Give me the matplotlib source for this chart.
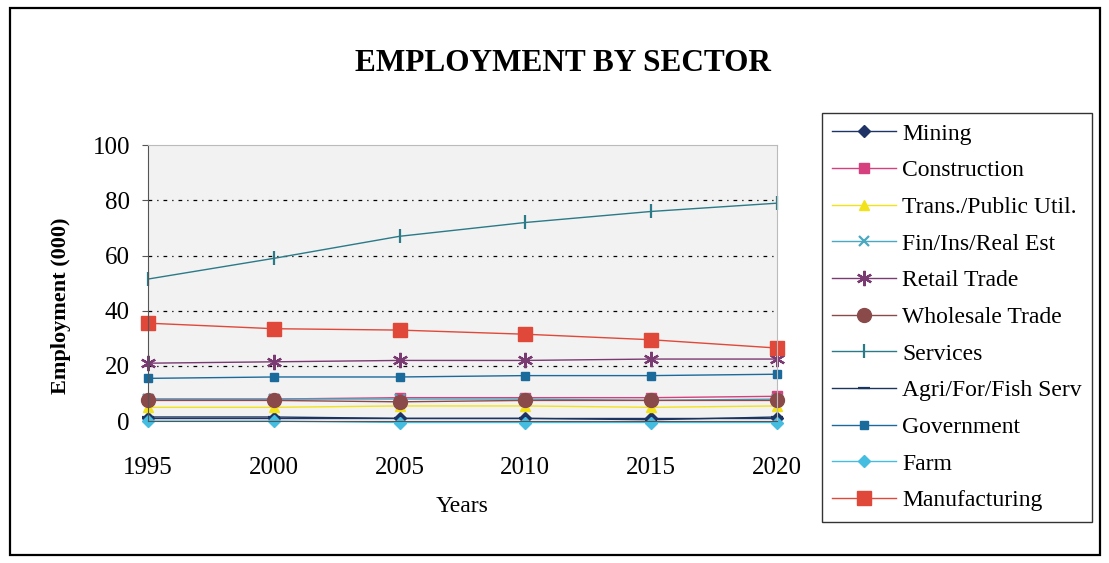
import matplotlib.pyplot as plt
from matplotlib.patches import Rectangle

years = [1995, 2000, 2005, 2010, 2015, 2020]

mining = [1, 1, 1, 1, 1, 1]
construction = [8, 8, 8.5, 8.5, 8.5, 9]
trans_util = [5, 5, 5.5, 5.5, 5, 5.5]
fin_ins_re = [8, 8, 8, 8, 7.5, 8]
retail = [21, 21.5, 22, 22, 22.5, 22.5]
wholesale = [7.5, 7.5, 7, 7.5, 7.5, 7.5]
services = [51.5, 59, 67, 72, 76, 79]
agri_serv = [1.5, 1.5, 1, 1, 0.5, 1.5]
government = [15.5, 16, 16, 16.5, 16.5, 17]
farm = [0, 0, -0.5, -0.5, -0.5, -0.5]
manufacturing = [35.5, 33.5, 33, 31.5, 29.5, 26.5]

plt.rcParams['font.family'] = ['Liberation Serif', 'DejaVu Serif']

fig = plt.figure(figsize=(11.09, 5.63), dpi=100)
ax = fig.add_axes([0.1335, 0.252, 0.567, 0.490])
ax.set_facecolor('#f2f2f2')

series = [
    ('Mining', mining, '#1f3366', 'D', 6, 1.0),
    ('Construction', construction, '#d6407e', 's', 7, 1.0),
    ('Trans./Public Util.', trans_util, '#f2e21a', '^', 7, 1.0),
    ('Fin/Ins/Real Est', fin_ins_re, '#4aa8c0', 'x', 7, 1.0),
    ('Retail Trade', retail, '#7a3a72', (6, 2, 0), 11, 1.0),
    ('Wholesale Trade', wholesale, '#8a4a4a', 'o', 10, 1.0),
    ('Services', services, '#2a7a88', '|', 10, 1.0),
    ('Agri/For/Fish Serv', agri_serv, '#1a3560', '_', 9, 1.0),
    ('Government', government, '#1b6a9c', 's', 6, 1.0),
    ('Farm', farm, '#45bde0', 'D', 6, 1.0),
    ('Manufacturing', manufacturing, '#e0483a', 's', 10, 1.0),
]

for name, vals, col, mk, ms, lw in series:
    kw = dict(color=col, lw=lw, marker=mk, markersize=ms, label=name, clip_on=False)
    if mk in ('|', '_', 'x', (6, 2, 0)):
        kw['markeredgewidth'] = 1.6
    ax.plot(years, vals, **kw)

for y in [20, 40, 60, 80]:
    ax.axhline(y, color='black', lw=0.9, linestyle=(0, (3, 4, 1, 4)), zorder=0.5)

ax.set_xlim(1995, 2020)
ax.set_ylim(0, 100)
ax.set_xticks(years)
ax.set_yticks([0, 20, 40, 60, 80, 100])
ax.tick_params(labelsize=18, length=4, color='#555555')
ax.tick_params(axis='x', pad=22)
ax.tick_params(axis='y', pad=9)
for side in ['top', 'right']:
    ax.spines[side].set_color('#bbbbbb')
    ax.spines[side].set_linewidth(0.8)
for side in ['left', 'bottom']:
    ax.spines[side].set_color('#555555')

ax.set_xlabel('Years', fontsize=17, labelpad=12)
ax.set_ylabel('Employment (000)', fontsize=16, fontweight='bold', labelpad=14)
ax.yaxis.set_label_coords(-0.122, 0.42)

fig.text(0.508, 0.888, 'EMPLOYMENT BY SECTOR', fontsize=22.5, fontweight='bold',
         ha='center', va='center')

leg = fig.legend(loc='upper left', bbox_to_anchor=(0.741, 0.80), fontsize=17,
                 frameon=True, fancybox=False, edgecolor='black',
                 labelspacing=0.64, handlelength=2.7, borderpad=0.45,
                 handletextpad=0.25, borderaxespad=0)
leg.get_frame().set_linewidth(1.0)

fig.patches.append(Rectangle((0.009, 0.014), 0.983, 0.972, transform=fig.transFigure,
                             fill=False, edgecolor='black', lw=1.6))

fig.savefig('out.png', dpi=100)
